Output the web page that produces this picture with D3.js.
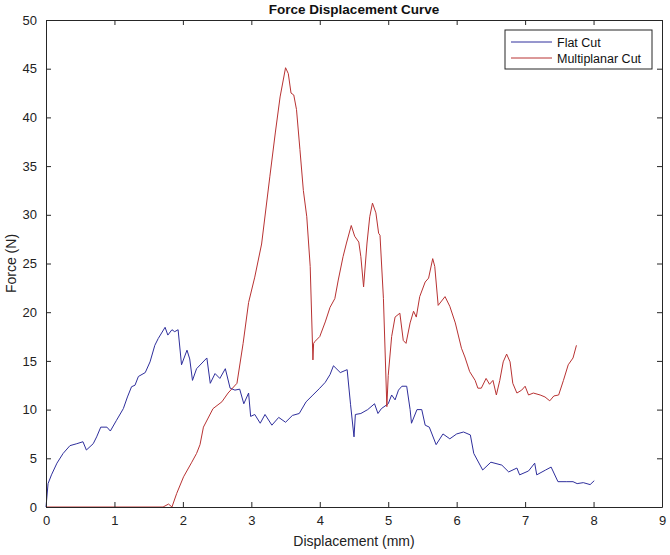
<!DOCTYPE html>
<html lang="en">
<head>
    <meta charset="UTF-8">
    <script src="https://d3js.org/d3.v7.min.js"></script>
    <title>Force Displacement Curve</title>
    <style>
        body { margin: 0; background: #fff; }
        svg { display: block; font-family: "Liberation Sans", Arial, sans-serif; }
    </style>
</head>
<body>
    <svg width="670" height="555"></svg>
    <script>
        // Flat cut readings (displacement mm, force N)
        const flatX = [0, 0.03, 0.08, 0.16, 0.25, 0.35, 0.45, 0.54, 0.59, 0.69, 0.74, 0.80, 0.89, 0.94, 1.03, 1.13, 1.19, 1.25, 1.30, 1.35, 1.45, 1.52, 1.59, 1.64, 1.74, 1.78, 1.84, 1.88, 1.93, 1.98, 2.06, 2.10, 2.14, 2.20, 2.35, 2.40, 2.47, 2.54, 2.62, 2.69, 2.76, 2.83, 2.89, 2.96, 2.99, 3.05, 3.13, 3.2, 3.3, 3.4, 3.5, 3.6, 3.7, 3.8, 3.9, 4.0, 4.08, 4.15, 4.2, 4.3, 4.4, 4.45, 4.5, 4.52, 4.6, 4.7, 4.8, 4.85, 4.9, 5.0, 5.05, 5.1, 5.15, 5.2, 5.27, 5.32, 5.34, 5.42, 5.49, 5.54, 5.6, 5.7, 5.8, 5.9, 6.0, 6.1, 6.2, 6.25, 6.38, 6.5, 6.66, 6.76, 6.88, 6.92, 7.05, 7.14, 7.17, 7.3, 7.38, 7.48, 7.6, 7.7, 7.76, 7.85, 7.95, 8.01];
        const flatY = [0, 2.4, 3.3, 4.5, 5.5, 6.3, 6.5, 6.7, 5.85, 6.5, 7.2, 8.2, 8.2, 7.8, 8.9, 10.1, 11.3, 12.35, 12.5, 13.4, 13.8, 14.9, 16.6, 17.3, 18.45, 17.65, 18.2, 18.0, 18.2, 14.6, 16.1, 15.2, 13.0, 14.2, 15.3, 12.7, 13.7, 13.2, 14.2, 12.2, 12.0, 12.1, 10.6, 11.7, 9.3, 9.5, 8.6, 9.5, 8.4, 9.2, 8.7, 9.4, 9.6, 10.8, 11.5, 12.2, 12.8, 13.6, 14.5, 13.8, 14.1, 10.5, 7.2, 9.5, 9.6, 10.0, 10.6, 9.6, 10.1, 10.6, 11.5, 11.0, 12.0, 12.4, 12.4, 10.0, 8.6, 10.0, 10.0, 8.4, 8.2, 6.4, 7.5, 7.0, 7.5, 7.7, 7.4, 5.5, 3.8, 4.6, 4.3, 3.6, 4.0, 3.3, 3.7, 4.5, 3.3, 3.8, 4.1, 2.6, 2.6, 2.6, 2.4, 2.5, 2.3, 2.7];

        // Multiplanar cut readings
        const multiX = [0, 1.71, 1.79, 1.84, 1.91, 2.01, 2.13, 2.20, 2.25, 2.30, 2.44, 2.57, 2.66, 2.79, 2.88, 2.96, 3.05, 3.15, 3.27, 3.35, 3.42, 3.50, 3.54, 3.58, 3.62, 3.66, 3.71, 3.76, 3.81, 3.86, 3.90, 3.91, 3.93, 4.0, 4.08, 4.15, 4.22, 4.27, 4.34, 4.39, 4.46, 4.51, 4.57, 4.60, 4.64, 4.69, 4.73, 4.77, 4.82, 4.86, 4.88, 4.93, 4.98, 5.0, 5.05, 5.1, 5.17, 5.22, 5.26, 5.32, 5.37, 5.41, 5.46, 5.54, 5.59, 5.65, 5.68, 5.73, 5.83, 5.90, 5.98, 6.07, 6.12, 6.19, 6.27, 6.31, 6.36, 6.43, 6.48, 6.53, 6.58, 6.63, 6.68, 6.73, 6.78, 6.82, 6.88, 6.95, 7.0, 7.05, 7.12, 7.22, 7.29, 7.36, 7.42, 7.49, 7.56, 7.63, 7.70, 7.75];
        const multiY = [0, 0, 0.3, 0, 1.4, 3.1, 4.6, 5.5, 6.4, 8.2, 10.1, 10.8, 11.7, 12.7, 16.8, 21.0, 23.6, 27.0, 33.9, 38.4, 42.1, 45.1, 44.5, 42.5, 42.3, 40.8, 36.7, 32.5, 29.8, 24.7, 15.1, 16.8, 17.0, 17.5, 19.0, 20.5, 21.4, 23.3, 25.7, 27.1, 28.9, 27.8, 27.2, 25.7, 22.6, 27.1, 29.8, 31.2, 30.2, 28.1, 27.9, 21.4, 10.3, 13.5, 17.5, 19.5, 19.9, 17.1, 16.8, 18.9, 20.1, 19.5, 21.6, 23.1, 23.5, 25.5, 24.7, 20.7, 21.6, 20.6, 18.9, 16.3, 15.4, 13.9, 13.0, 12.2, 12.2, 13.2, 12.6, 13.0, 11.5, 13.0, 14.9, 15.7, 14.9, 12.7, 11.7, 12.0, 12.4, 11.5, 11.7, 11.5, 11.3, 10.9, 11.4, 11.5, 13.0, 14.6, 15.3, 16.6];

        const xTicks = [0, 1, 2, 3, 4, 5, 6, 7, 8, 9];
        const yTicks = [0, 5, 10, 15, 20, 25, 30, 35, 40, 45, 50];
        const seriesNames = ['Flat Cut', 'Multiplanar Cut'];
        const seriesColors = ['#2e2e9c', '#b83232'];

        const margin = { top: 20, right: 8, bottom: 48, left: 46 };
        const width = 670, height = 555;
        const axisColor = '#262626';

        const svg = d3.select('svg');

        const x = d3.scaleLinear().domain([0, 9]).range([margin.left, width - margin.right]);
        const y = d3.scaleLinear().domain([0, 50]).range([height - margin.bottom, margin.top]);

        const line = d3.line().x(d => x(d[0])).y(d => y(d[1]));

        const flat = flatX.map((v, i) => [v, flatY[i]]);
        const multi = multiX.map((v, i) => [v, multiY[i]]);

        // lines
        [flat, multi].forEach((data, i) => {
            svg.append('path')
                .datum(data)
                .attr('fill', 'none')
                .attr('stroke', seriesColors[i])
                .attr('stroke-width', 1)
                .attr('stroke-linejoin', 'round')
                .attr('d', line);
        });

        // axes (ticks inward on all four sides, box)
        const tickLen = 5;
        const styleAxis = g => {
            g.select('.domain').attr('stroke', axisColor);
            g.selectAll('.tick line').attr('stroke', axisColor);
            g.selectAll('text').attr('fill', '#222').attr('font-size', 13);
        };

        svg.append('g')
            .attr('transform', `translate(0,${y(0)})`)
            .call(d3.axisBottom(x).tickValues(xTicks).tickSize(-tickLen).tickPadding(9).tickSizeOuter(0))
            .call(styleAxis);
        svg.append('g')
            .attr('transform', `translate(0,${y(50)})`)
            .call(d3.axisTop(x).tickValues(xTicks).tickSize(-tickLen).tickFormat('').tickSizeOuter(0))
            .call(styleAxis);
        svg.append('g')
            .attr('transform', `translate(${x(0)},0)`)
            .call(d3.axisLeft(y).tickValues(yTicks).tickSize(-tickLen).tickPadding(9).tickSizeOuter(0))
            .call(styleAxis);
        svg.append('g')
            .attr('transform', `translate(${x(9)},0)`)
            .call(d3.axisRight(y).tickValues(yTicks).tickSize(-tickLen).tickFormat('').tickSizeOuter(0))
            .call(styleAxis);

        // title and axis labels
        svg.append('text')
            .attr('x', (x(0) + x(9)) / 2)
            .attr('y', 14)
            .attr('text-anchor', 'middle')
            .attr('font-size', 13.5)
            .attr('font-weight', 'bold')
            .attr('fill', '#111')
            .text('Force Displacement Curve');

        svg.append('text')
            .attr('x', (x(0) + x(9)) / 2)
            .attr('y', 546)
            .attr('text-anchor', 'middle')
            .attr('font-size', 14)
            .attr('fill', '#222')
            .text('Displacement (mm)');

        svg.append('text')
            .attr('transform', `translate(16,${(y(0) + y(50)) / 2}) rotate(-90)`)
            .attr('text-anchor', 'middle')
            .attr('font-size', 14)
            .attr('fill', '#222')
            .text('Force (N)');

        // legend
        const legend = svg.append('g').attr('transform', 'translate(505,30)');
        legend.append('rect')
            .attr('width', 147).attr('height', 39)
            .attr('fill', '#fff').attr('stroke', axisColor).attr('stroke-width', 1);
        seriesNames.forEach((name, i) => {
            const row = legend.append('g').attr('transform', `translate(0,${12 + i * 16})`);
            row.append('line')
                .attr('x1', 6).attr('x2', 47)
                .attr('stroke', seriesColors[i]).attr('stroke-width', 1);
            row.append('text')
                .attr('x', 52).attr('y', 4.5)
                .attr('font-size', 12.5)
                .attr('fill', '#111')
                .text(name);
        });
    </script>
</body>
</html>
